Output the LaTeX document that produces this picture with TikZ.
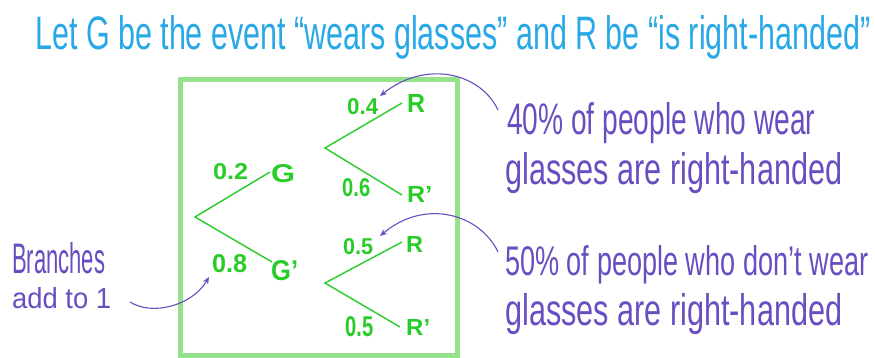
\documentclass[tikz,border=0pt]{standalone}
\usepackage{fontspec}
\usepackage{graphicx}
\setmainfont{Liberation Sans}
\usetikzlibrary{arrows.meta}
\definecolor{tblue}{RGB}{40,168,230}
\definecolor{tpurple}{RGB}{104,78,192}
\definecolor{tgreen}{RGB}{40,204,40}
\definecolor{boxgreen}{RGB}{150,226,140}
\newcommand\fitbox[3]{\resizebox{#1pt}{#2pt}{#3}}
\begin{document}
\begin{tikzpicture}[x=1pt,y=-1pt,
  txt/.style={inner sep=0pt, anchor=base west},
  branch/.style={tgreen, line width=1.4pt},
  lab/.style={inner sep=0pt, anchor=south west, text=tgreen, font=\bfseries},
  note/.style={inner sep=0pt, anchor=base west, text=tpurple},
  pointer/.style={tpurple, line width=1.1pt, -{Stealth[length=7pt,width=6pt]}}]
\useasboundingbox (0,0) rectangle (875,358);
\fill[white] (0,0) rectangle (875,358);
% title
\node[txt, text=tblue] (title) at (35,50) {\fitbox{835}{34}{Let G be the event ``wears glasses'' and R be ``is right-handed''}};
% box
\draw[boxgreen, line width=5pt] (180,80) rectangle (457,355);
% tree coordinates
\coordinate (r0) at (195,217);
\coordinate (gE) at (270,172);
\coordinate (gpE) at (272,262);
\coordinate (r1) at (325,148);
\coordinate (rE1) at (402,103);
\coordinate (rpE1) at (402,195);
\coordinate (r2) at (325,283);
\coordinate (rE2) at (402,242);
\coordinate (rpE2) at (400,327);
\draw[branch] (gE) -- (r0) -- (gpE);
\draw[branch] (rE1) -- (r1) -- (rpE1);
\draw[branch] (rE2) -- (r2) -- (rpE2);
% labels
\node[lab] (G) at (271,183) {\fitbox{24}{18}{G}};
\node[lab] (Gp) at (271,281) {\fitbox{27}{20}{G'}};
\node[lab] (R1) at (407,113) {\fitbox{18}{18}{R}};
\node[lab] (Rp1) at (407,203) {\fitbox{25}{16}{R'}};
\node[lab] (R2) at (406,253) {\fitbox{17}{16}{R}};
\node[lab] (Rp2) at (406,336) {\fitbox{24}{16}{R'}};
\node[lab] (p02) at (213,180) {\fitbox{35}{16}{0.2}};
\node[lab] (p08) at (212,273) {\fitbox{35}{18}{0.8}};
\node[lab] (p04) at (347,115) {\fitbox{31}{16}{0.4}};
\node[lab] (p06) at (342,197) {\fitbox{28}{18}{0.6}};
\node[lab] (p05a) at (343,255) {\fitbox{30}{16}{0.5}};
\node[lab] (p05b) at (345,337) {\fitbox{28}{20}{0.5}};
% notes
\node[note] (n1) at (507,135) {\fitbox{308}{32}{40\% of people who wear}};
\node[note] (n2) at (505,185) {\fitbox{337}{32}{glasses are right-handed}};
\node[note] (n3) at (505,275) {\fitbox{363}{30}{50\% of people who don't wear}};
\node[note] (n4) at (505,325) {\fitbox{337}{32}{glasses are right-handed}};
\node[note] (b1) at (12,273) {\fitbox{93}{31}{Branches}};
\node[note] (b2) at (12,308) {\fitbox{99}{21}{add to 1}};
% pointers
\coordinate (a1s) at (498,110);
\coordinate (a1e) at (380,96);
\coordinate (a2s) at (498,252);
\coordinate (a2e) at (380,236);
\coordinate (a3s) at (130,302);
\coordinate (a3e) at (209,277);
\draw[pointer] (a1s) .. controls (480,72) and (425,60) .. (a1e);
\draw[pointer] (a2s) .. controls (480,214) and (425,198) .. (a2e);
\draw[pointer] (a3s) .. controls (152,316) and (192,306) .. (a3e);
\end{tikzpicture}
\end{document}
